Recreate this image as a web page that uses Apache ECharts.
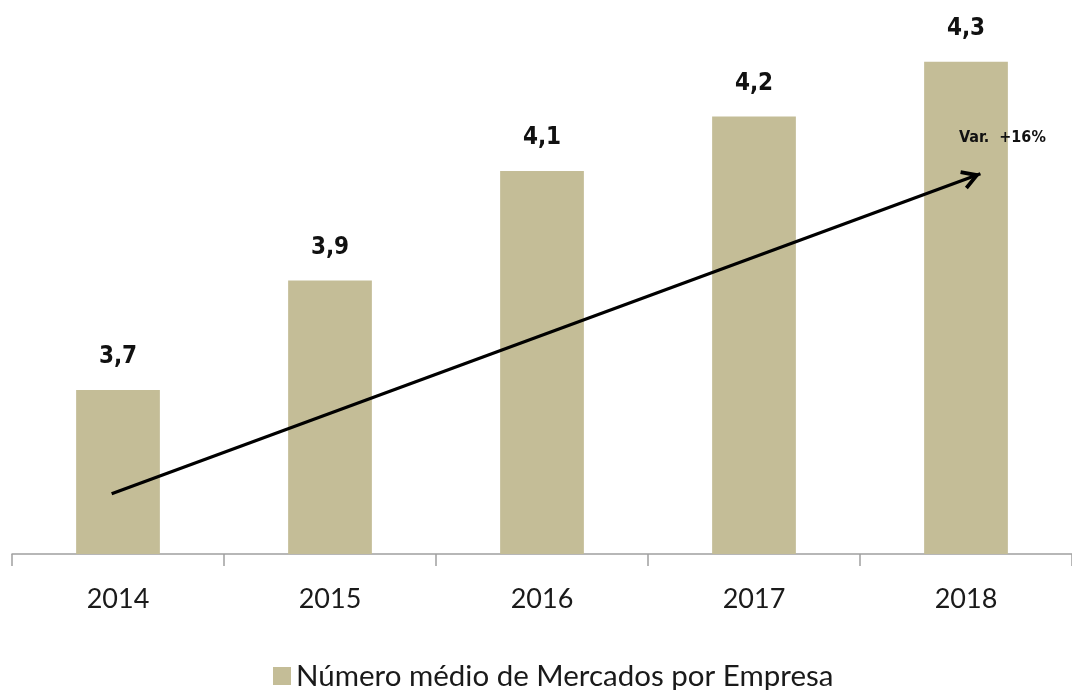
<!DOCTYPE html>
<html>
<head>
<meta charset="utf-8">
<script src="https://cdn.jsdelivr.net/npm/echarts@6/dist/echarts.min.js"></script>
<style>
  html, body { margin: 0; padding: 0; background: #fff; }
  #main { width: 1072px; height: 690px; }
</style>
</head>
<body>
<div id="main"></div>
<script>
// dados do gráfico
const years = ['2014', '2015', '2016', '2017', '2018'];
const mercados = [3.7, 3.9, 4.1, 4.2, 4.3];
const seriesName = 'Número médio de Mercados por Empresa';
// seta da variação (eixo x auxiliar: índice da categoria, eixo y: valor)
const arrowStart = [-0.03, 3.51];
const arrowEnd = [4.068, 4.095];
const varLabel = 'Var.  +16%';

// ponta de seta aberta (a ponta fica no centro da caixa)
const openArrow = 'path://M0,0 L10,17 L6.8,18.9 L0,7.5 L-6.8,18.9 L-10,17 Z M0,-18.9 L0,-18.9 Z';

const chart = echarts.init(document.getElementById('main'));

let option = {
  animation: false,
  grid: { left: 12, right: -4, top: 7, bottom: 136 },
  legend: {
    data: [seriesName],
    left: 268,
    top: 656,
    itemWidth: 18,
    itemHeight: 18,
    itemGap: 8,
    icon: 'rect',
    textStyle: { fontFamily: 'Lato', fontSize: 29.5, color: '#1a1a1a' }
  },
  xAxis: [
    {
      type: 'category',
      data: years,
      axisLine: { lineStyle: { color: '#a0a0a0', width: 1.5 } },
      axisTick: { show: true, length: 12, lineStyle: { color: '#a0a0a0', width: 1.5 } },
      axisLabel: { fontFamily: 'Lato', fontSize: 27, color: '#1a1a1a', margin: 32 }
    },
    {
      type: 'value',
      min: -0.5,
      max: 4.5,
      show: false
    }
  ],
  yAxis: {
    type: 'value',
    min: 3.4,
    max: 4.4,
    show: false,
    splitLine: { show: false }
  },
  graphic: [
    {
      type: 'text',
      left: 959,
      top: 130,
      z: 100,
      style: {
        text: varLabel,
        font: 'bold 16px "DejaVu Sans Condensed"',
        fill: '#111'
      }
    }
  ],
  series: [
    {
      name: seriesName,
      type: 'bar',
      data: mercados,
      barWidth: '39.5%',
      itemStyle: { color: '#c4bd97' },
      label: {
        show: true,
        position: 'top',
        distance: 21,
        formatter: (p) => p.value.toFixed(1).replace('.', ','),
        fontFamily: 'DejaVu Sans Condensed',
        fontWeight: 'bold',
        fontSize: 24,
        color: '#111'
      }
    },
    {
      name: 'seta',
      type: 'line',
      xAxisIndex: 1,
      data: [],
      symbol: 'none',
      silent: true,
      z: 10,
      markLine: {
        silent: true,
        symbol: ['none', openArrow],
        symbolSize: [20, 38],
        label: { show: false },
        itemStyle: { color: '#000' },
        lineStyle: { color: '#000', width: 3.2, type: 'solid' },
        data: [[{ coord: arrowStart }, { coord: arrowEnd }]]
      }
    }
  ]
};

chart.setOption(option);
</script>
</body>
</html>
